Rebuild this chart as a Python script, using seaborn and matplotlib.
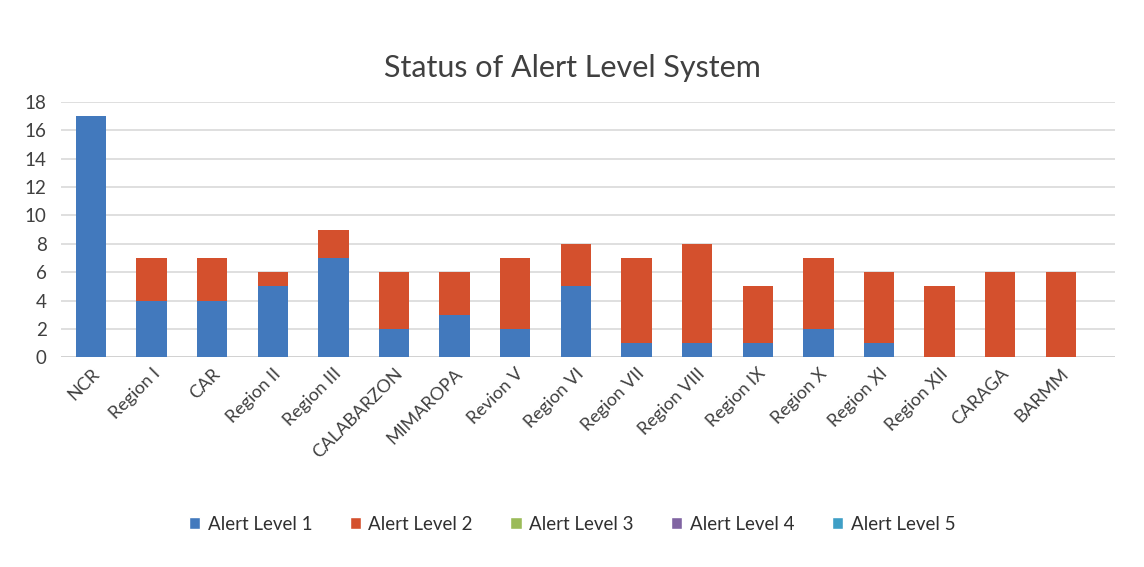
import numpy as np
import pandas as pd
import matplotlib
matplotlib.use("Agg")
import matplotlib.pyplot as plt
import seaborn as sns
from matplotlib.patches import Patch

regions = ["NCR", "Region I", "CAR", "Region II", "Region III", "CALABARZON",
           "MIMAROPA", "Revion V", "Region VI", "Region VII", "Region VIII",
           "Region IX", "Region X", "Region XI", "Region XII", "CARAGA", "BARMM"]
level1 = [17, 4, 4, 5, 7, 2, 3, 2, 5, 1, 1, 1, 2, 1, 0, 0, 0]
level2 = [0, 3, 3, 1, 2, 4, 3, 5, 3, 6, 7, 4, 5, 5, 5, 6, 6]
level3 = [0] * 17
level4 = [0] * 17
level5 = [0] * 17
series_names = ["Alert Level 1", "Alert Level 2", "Alert Level 3", "Alert Level 4", "Alert Level 5"]
colors = ["#4279BD", "#D4502D", "#9BBB59", "#8064A2", "#3F9FC6"]

sns.set_style("white")
plt.rcParams["font.family"] = ["Lato", "DejaVu Sans"]

df = pd.DataFrame({"region": regions, "l1": level1, "l2": level2,
                   "l3": level3, "l4": level4, "l5": level5})
cols = ["l1", "l2", "l3", "l4", "l5"]
cum = df[cols].cumsum(axis=1)

fig = plt.figure(figsize=(11.44, 5.67), dpi=100)
ax = fig.add_axes([0.053, 0.37, 0.922, 0.45])

# draw stacked bars from the top layer down so each lower layer covers the previous
for i in range(len(cols) - 1, -1, -1):
    sns.barplot(x=df["region"], y=cum[cols[i]], color=colors[i], width=0.5,
                saturation=1, linewidth=0, ax=ax, zorder=3)

ax.set_ylim(0, 18)
ax.set_xlim(-0.5, 16.9)
ax.set_yticks(np.arange(0, 19, 2))
ax.yaxis.grid(True, color="#D9D9D9", linewidth=1.2, zorder=0)
for s in ["top", "right", "left", "bottom"]:
    ax.spines[s].set_visible(False)
ax.axhline(0, color="#D0D0D0", linewidth=1.2, zorder=2)
ax.set_xlabel("")
ax.set_ylabel("")
ax.tick_params(axis="y", labelsize=13.5, labelcolor="#404040", length=0, pad=10)
ax.tick_params(axis="x", labelsize=13, labelcolor="#404040", length=0, pad=6)
plt.setp(ax.get_xticklabels(), rotation=45, ha="right", rotation_mode="anchor")

fig.suptitle("Status of Alert Level System", fontsize=22, color="#404040", y=0.905)

handles = [Patch(facecolor=c, label=n) for c, n in zip(colors, series_names)]
fig.legend(handles=handles, loc="center", bbox_to_anchor=(0.5, 0.075), ncol=5,
           frameon=False, fontsize=13.5, handlelength=0.6, handleheight=0.6,
           columnspacing=2.0, handletextpad=0.4, labelcolor="#303030")

fig.savefig("out.png", dpi=100, facecolor="white")
